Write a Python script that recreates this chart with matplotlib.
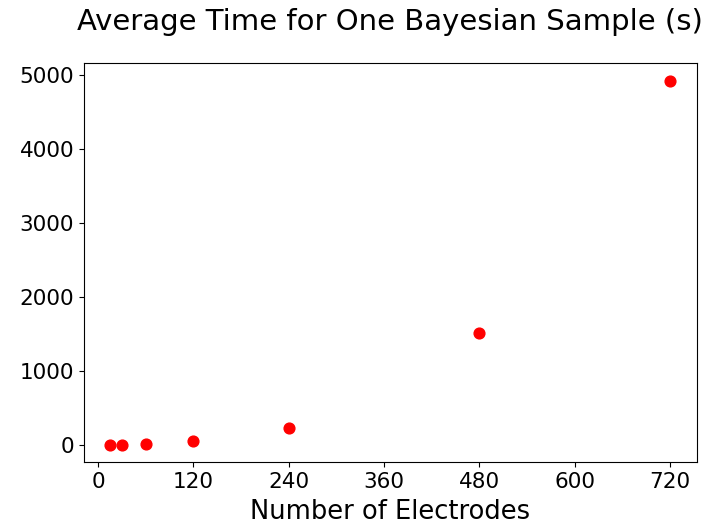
import matplotlib
matplotlib.use("Agg")
import matplotlib.pyplot as plt

electrodes = [15, 30, 60, 120, 240, 480, 720]
avg_time = [2, 4, 15, 50, 225, 1510, 4920]
x_ticks = [0, 120, 240, 360, 480, 600, 720]


def plot_sample_time(electrodes, avg_time):
    fig = plt.figure(figsize=(7.07, 5.29), dpi=100)
    ax = fig.add_axes([84 / 707, 1 - 462 / 529, 613 / 707, 399 / 529])

    ax.scatter(electrodes, avg_time, color="red", s=60, zorder=3)

    ax.set_xticks(x_ticks)
    ax.set_xlim(-17.6, 754)
    ax.set_ylim(-230, 5162)
    ax.tick_params(labelsize=15.5)
    ax.set_xlabel("Number of Electrodes", fontsize=18.5, labelpad=5)
    fig.suptitle("Average Time for One Bayesian Sample (s)", fontsize=21,
                 x=390 / 707, y=0.985)

    fig.savefig("out.png", dpi=100)


if __name__ == "__main__":
    plot_sample_time(electrodes, avg_time)
